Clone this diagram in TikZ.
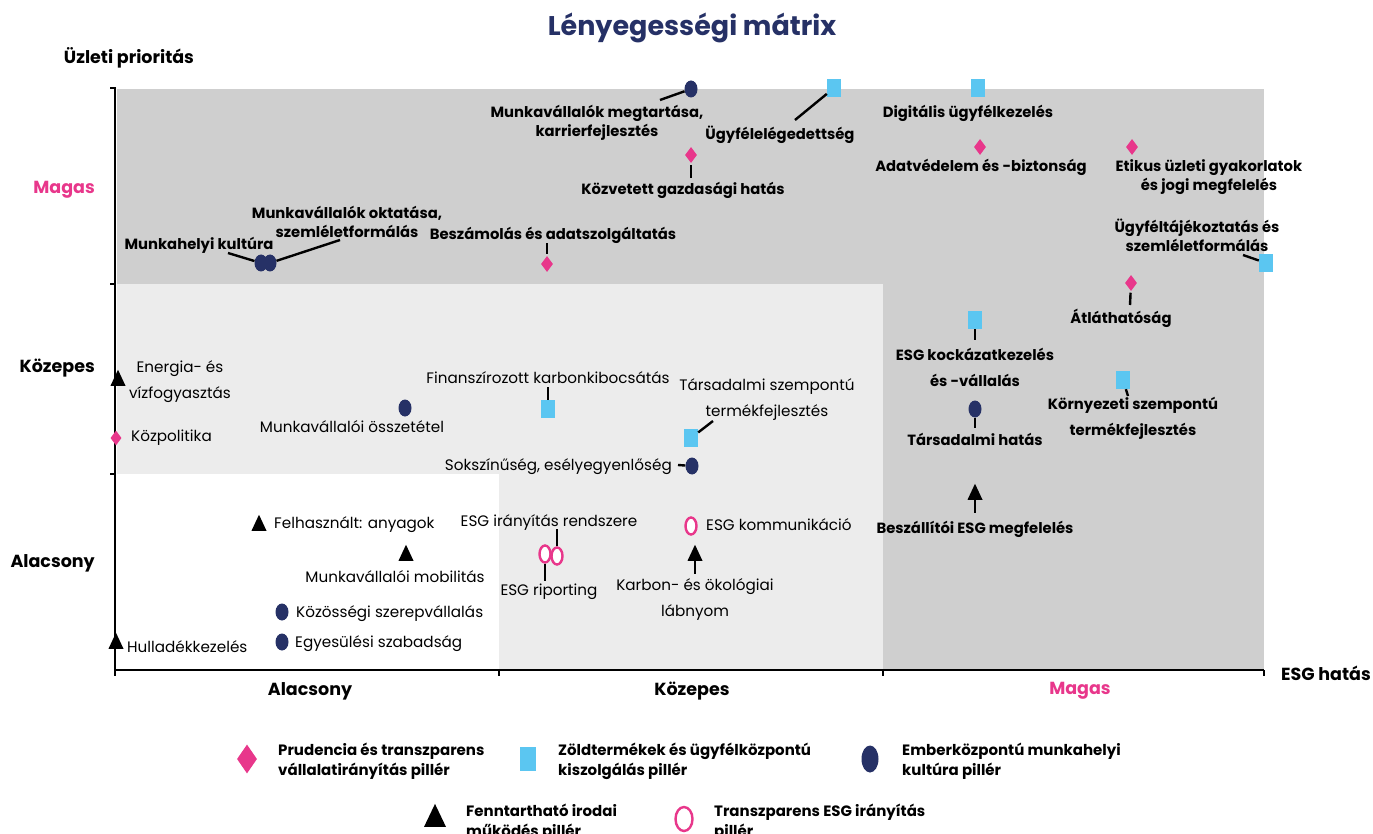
\documentclass[tikz,border=0pt]{standalone}
\usepackage{fontspec}
\setmainfont{Poppins}
\usetikzlibrary{shapes.geometric}
\definecolor{navy}{HTML}{263166}
\definecolor{pinkc}{HTML}{E8378B}
\definecolor{bluec}{HTML}{5BC6F1}
\definecolor{darkg}{HTML}{CFCFCF}
\definecolor{lightg}{HTML}{ECECEC}
\newcommand\labrfont{\fontsize{15.2}{26}\selectfont}
\newcommand\labbfont{\fontsize{14.8}{18.8}\selectfont\bfseries}
\newcommand\labbwfont{\fontsize{14.8}{26}\selectfont\bfseries}
\newcommand\legfont{\fontsize{15}{20}\selectfont\bfseries}
\newcommand\axfont{\fontsize{17.5}{20}\selectfont\bfseries}
\begin{document}
\begin{tikzpicture}[x=1pt,y=-1pt,
  circm/.style={ellipse, fill=navy, minimum width=13, minimum height=17, inner sep=0},
  sqm/.style={rectangle, fill=bluec, minimum width=14, minimum height=18, inner sep=0},
  diam/.style={diamond, fill=pinkc, minimum width=12, minimum height=16, inner sep=0},
  trim/.style={isosceles triangle, shape border rotate=90, isosceles triangle stretches, fill=black, minimum width=15, minimum height=16, inner sep=0},
  ringm/.style={ellipse, draw=pinkc, fill=white, line width=2.4, minimum width=11, minimum height=17, inner sep=0},
  labr/.style={font=\labrfont, inner sep=0, align=center},
  labb/.style={font=\labbfont, inner sep=0, align=center},
  labbw/.style={font=\labbwfont, inner sep=0, align=center},
  legt/.style={font=\legfont, inner sep=0, align=left, anchor=west},
  axl/.style={font=\axfont, inner sep=0},
  conn/.style={line width=2.4, black},
  axisl/.style={line width=2.6, black}
]
\useasboundingbox (0,0) rectangle (1373,834);
% background regions
\fill[darkg] (117,89) rectangle (1264,284);
\fill[darkg] (883,284) rectangle (1264,669);
\fill[lightg] (117,284) rectangle (883,474);
\fill[lightg] (499,474) rectangle (883,669);
% axes
\draw[axisl] (115,88) -- (115,670) -- (1264,670);
\foreach \yy in {88,284,474} \draw[axisl] (110,\yy) -- (116,\yy);
\foreach \xx in {115,499,883,1264} \draw[axisl] (\xx,670) -- (\xx,676);
% titles and axis labels
\node[font=\fontsize{27}{30}\selectfont\bfseries, text=navy] (title) at (692,28) {Lényegességi mátrix};
\node[axl] (ylab) at (129,58) {Üzleti prioritás};
\node[axl, text=pinkc, anchor=east] (ymag) at (95,190) {Magas};
\node[axl, anchor=east] (ykoz) at (95,368) {Közepes};
\node[axl, anchor=east] (yala) at (95,563) {Alacsony};
\node[axl] (xala) at (310,691) {Alacsony};
\node[axl] (xkoz) at (692,691) {Közepes};
\node[axl, text=pinkc] (xmag) at (1080,691) {Magas};
\node[axl] (xlab) at (1326,673) {ESG hatás};

% ---- top band
\node[circm] (c1) at (691,89) {};
\node[labb] (L1) at (597,123) {Munkavállalók megtartása,\\karrierfejlesztés};
\coordinate (k1) at (660,100);
\draw[conn] (c1) -- (k1);

\node[sqm] (s1) at (834,88) {};
\node[labb] (L2) at (780,135) {Ügyfélelégedettség};
\coordinate (k2) at (795,120);
\draw[conn] (s1) -- (k2);

\node[sqm] (s2) at (978,88) {};
\node[labb] (L3) at (968,113) {Digitális ügyfélkezelés};

\node[diam] (d1) at (691,155) {};
\node[labb] (L4) at (683,190) {Közvetett gazdasági hatás};
\coordinate (k4) at (691,178);
\draw[conn, shorten <=2] (d1) -- (k4);

\node[diam] (d2) at (980,147) {};
\node[labb] (L5) at (981,167) {Adatvédelem és -biztonság};

\node[diam] (d3) at (1132,147) {};
\node[labb] (L6) at (1209,177.5) {Etikus üzleti gyakorlatok\\és jogi megfelelés};

\node[sqm] (s3) at (1266,263) {};
\node[labb] (L7) at (1197,235.5) {Ügyféltájékoztatás és\\szemléletformálás};
\coordinate (k7) at (1243,255);
\draw[conn] (s3) -- (k7);

\node[diam] (d4) at (1131,283) {};
\node[labb] (L8) at (1121,318) {Átláthatóság};
\coordinate (k8) at (1130,305);
\draw[conn, shorten <=2] (d4) -- (k8);

\node[circm] (c2) at (261,263) {};
\node[circm] (c3) at (270,263) {};
\node[labb] (L9) at (347,221.5) {Munkavállalók oktatása,\\szemléletformálás};
\node[labb] (L10) at (199,245) {Munkahelyi kultúra};
\coordinate (k9) at (340,240);
\coordinate (k10) at (228,253);
\draw[conn] (c2) -- (k10);
\draw[conn] (c3) -- (k9);

\node[diam] (d5) at (547,264) {};
\node[labb] (L11) at (553,235) {Beszámolás és adatszolgáltatás};
\coordinate (k11) at (547,243);
\draw[conn, shorten <=2] (d5) -- (k11);

% ---- right column
\node[sqm] (s4) at (975,320) {};
\node[labbw] (L12) at (975,367) {ESG kockázatkezelés\\és -vállalás};
\coordinate (k12) at (975,340);
\draw[conn] (s4) -- (k12);

\node[sqm] (s5) at (1123,380) {};
\node[labbw] (L13) at (1133,418) {Környezeti szempontú\\termékfejlesztés};
\coordinate (k13) at (1128,396);
\draw[conn] (s5) -- (k13);

\node[circm] (c4) at (975,409) {};
\node[labb] (L14) at (975,439) {Társadalmi hatás};
\coordinate (k14) at (975,428);
\draw[conn] (c4) -- (k14);

\node[trim] (t1) at (975,495) {};
\node[labb] (L15) at (975,529) {Beszállítói ESG megfelelés};
\coordinate (k15) at (975,513);
\draw[conn] (t1) -- (k15);

% ---- middle band
\node[trim] (t2) at (118,381) {};
\node[labr] (L16) at (180,382) {Energia- és\\vízfogyasztás};

\node[diam, minimum width=11, minimum height=15] (d6) at (116,438) {};
\node[labr, anchor=west] (L17) at (131,438) {Közpolitika};

\node[circm] (c5) at (405,408) {};
\node[labr] (L18) at (352,427) {Munkavállalói összetétel};

\node[sqm] (s6) at (548,409) {};
\node[labr] (L19) at (548,378) {Finanszírozott karbonkibocsátás};
\coordinate (k19) at (548,387);
\draw[conn] (s6) -- (k19);

\node[sqm] (s7) at (691,438) {};
\node[labr] (L20) at (767,400) {Társadalmi szempontú\\termékfejlesztés};
\coordinate (k20) at (713,421);
\draw[conn] (s7) -- (k20);

\node[circm] (c6) at (692,466) {};
\node[labr, anchor=east] (L21) at (672,467) {Sokszínűség, esélyegyenlőség};
\coordinate (k21) at (678,465);
\draw[conn] (c6) -- (k21);

% ---- bottom band
\node[trim] (t3) at (259,526) {};
\node[labr, anchor=west] (L22) at (274,525) {Felhasznált: anyagok};

\node[trim] (t4) at (406,556) {};
\node[labr] (L23) at (395,577) {Munkavállalói mobilitás};

\node[circm] (c7) at (282,612) {};
\node[labr, anchor=west] (L24) at (296,614) {Közösségi szerepvállalás};

\node[circm] (c8) at (282,642) {};
\node[labr, anchor=west] (L25) at (295,644) {Egyesülési szabadság};

\node[trim] (t5) at (116,644) {};
\node[labr, anchor=west] (L26) at (127,647) {Hulladékkezelés};

\node[ringm] (r1) at (545,554) {};
\node[ringm] (r2) at (557,556) {};
\node[labr] (L27) at (549,523) {ESG irányítás rendszere};
\node[labr] (L28) at (549,592) {ESG riporting};
\coordinate (k27) at (557,529);
\coordinate (k28) at (545,581);
\draw[conn] (r2) -- (k27);
\draw[conn] (r1) -- (k28);

\node[ringm] (r3) at (691,526) {};
\node[labr, anchor=west] (L29) at (706,525) {ESG kommunikáció};

\node[trim] (t6) at (695,556) {};
\node[labr] (L30) at (695,599) {Karbon- és ökológiai\\lábnyom};
\coordinate (k30) at (695,574);
\draw[conn] (t6) -- (k30);

% ---- legend
\node[diam, minimum width=20, minimum height=29] (g1) at (247,759) {};
\node[legt] (G1) at (278,761) {Prudencia és transzparens\\vállalatirányítás pillér};
\node[sqm, minimum width=16, minimum height=24] (g2) at (528,759) {};
\node[legt] (G2) at (558,761) {Zöldtermékek és ügyfélközpontú\\kiszolgálás pillér};
\node[circm, minimum width=17, minimum height=27] (g3) at (870,759) {};
\node[legt] (G3) at (902,761) {Emberközpontú munkahelyi\\kultúra pillér};
\node[trim, minimum width=22, minimum height=23] (g4) at (435,820) {};
\node[legt] (G4) at (466,822) {Fenntartható irodai\\működés pillér};
\node[ringm, minimum width=17, minimum height=24] (g5) at (684,819) {};
\node[legt] (G5) at (714,822) {Transzparens ESG irányítás\\pillér};
\end{tikzpicture}
\end{document}
